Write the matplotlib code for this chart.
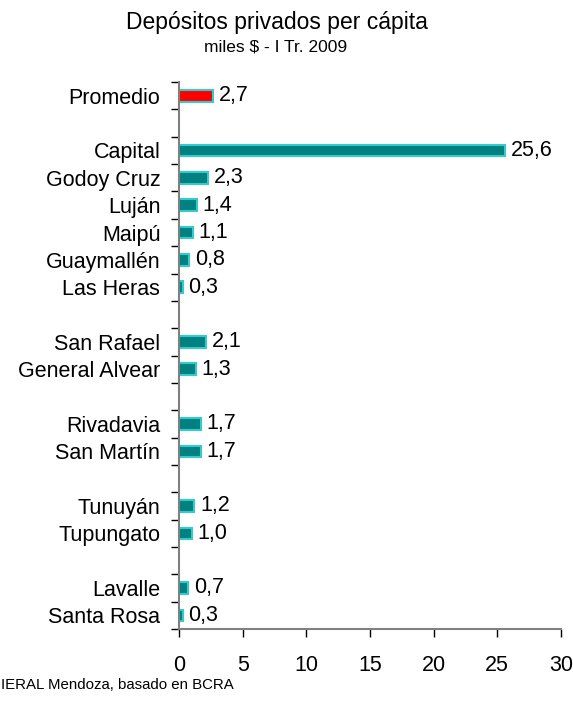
import numpy as np
import matplotlib.pyplot as plt

plt.rcParams['font.family'] = ['Liberation Sans', 'DejaVu Sans']

# Datos (slots vacios = separadores entre grupos)
etiquetas = ["Promedio", "", "Capital", "Godoy Cruz", "Luján", "Maipú", "Guaymallén",
             "Las Heras", "", "San Rafael", "General Alvear", "", "Rivadavia",
             "San Martín", "", "Tunuyán", "Tupungato", "", "Lavalle", "Santa Rosa"]
valores = [2.7, None, 25.6, 2.3, 1.4, 1.1, 0.8, 0.3, None, 2.1, 1.3, None, 1.7,
           1.7, None, 1.2, 1.0, None, 0.7, 0.3]

fig = plt.figure(figsize=(5.73, 7.08), dpi=100)
ax = fig.add_axes([0.3124, 0.1116, 0.6666, 0.7724])

gris = "#808080"
for i, (lab, v) in enumerate(zip(etiquetas, valores)):
    if v is None:
        continue
    color = "#FF0000" if lab == "Promedio" else "#008080"
    ax.barh(i, v, height=0.42, color=color, edgecolor="#33CCCC", linewidth=1.5)
    ax.text(v + 0.45, i, f"{v:.1f}".replace(".", ","), va="center", ha="left",
            fontsize=15.5)

n = len(etiquetas)
ax.set_ylim(n - 0.5, -0.5)
ax.set_xlim(0, 30)
ax.set_xticks(np.arange(0, 31, 5))

ax.set_yticks(np.arange(-0.5, n, 1))
ax.set_yticklabels([])
ax.set_yticks(np.arange(n), minor=True)
ax.set_yticklabels(etiquetas, minor=True, fontsize=15.5)
ax.tick_params(axis="y", which="minor", length=0, pad=13.5)
ax.tick_params(axis="y", which="major", length=6, color="black", width=1)
ax.tick_params(axis="x", length=6, direction="out", color="black", width=1,
               labelsize=15.5, pad=13)

for s in ["top", "right"]:
    ax.spines[s].set_visible(False)
for s in ["left", "bottom"]:
    ax.spines[s].set_color(gris)
    ax.spines[s].set_linewidth(1.5)

fig.text(0.483, 0.968, "Depósitos privados per cápita", ha="center", va="center",
         fontsize=16.5)
fig.text(0.481, 0.934, "miles $ - I Tr. 2009", ha="center", va="center", fontsize=12.5)
fig.text(0.002, 0.032, "IERAL Mendoza, basado en BCRA", ha="left",
         va="center", fontsize=10.8)

fig.savefig("out.png", dpi=100)
